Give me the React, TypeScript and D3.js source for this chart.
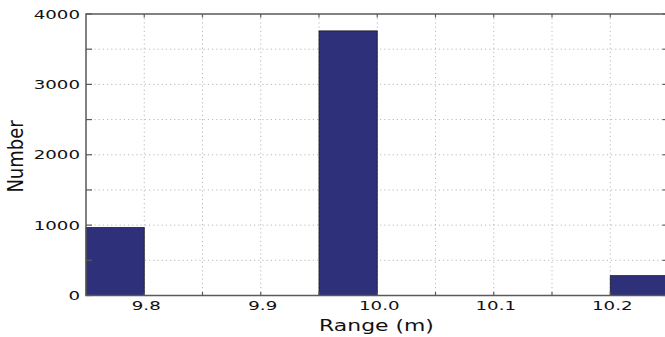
import React from "react";
import * as d3 from "d3";

const binLower = [9.75, 9.95, 10.2];
const counts = [965, 3760, 282];
const binWidth = 0.05;
const xDomain = [9.75, 10.25];
const yDomain = [0, 4000];
const xTickValues = [9.8, 9.9, 10.0, 10.1, 10.2];
const xTickLabels = ["9.8", "9.9", "10.0", "10.1", "10.2"];
const xGridValues = [9.8, 9.85, 9.9, 9.95, 10.0, 10.05, 10.1, 10.15, 10.2];
const yTickValues = [0, 1000, 2000, 3000, 4000];
const yGridValues = [500, 1000, 1500, 2000, 2500, 3000, 3500];
const xLabel = "Range (m)";
const yLabel = "Number";

export default function App() {
  const W = 665, H = 337;
  const left = 86, right = 668.5, top = 14, bottom = 295.5;
  const x = d3.scaleLinear().domain(xDomain).range([left, right]);
  const y = d3.scaleLinear().domain(yDomain).range([bottom, top]);
  const axisColor = "#5a5a5a";
  const gridColor = "#b8b8b8";
  const font = "'DejaVu Sans', sans-serif";
  const sx = 1.4;
  return (
    <svg width={W} height={H} style={{ position: "absolute", left: 0, top: 0, background: "#fff" }}>
      <rect x={0} y={0} width={W} height={H} fill="#fff" />
      {xGridValues.map((v, i) => (
        <line key={"xg" + i} x1={x(v)} x2={x(v)} y1={top} y2={bottom} stroke={gridColor} strokeWidth={1} strokeDasharray="1.2,3" />
      ))}
      {yGridValues.map((v, i) => (
        <line key={"yg" + i} x1={left} x2={right} y1={y(v)} y2={y(v)} stroke={gridColor} strokeWidth={1} strokeDasharray="1.2,3" />
      ))}
      {binLower.map((b, i) => (
        <rect key={"bar" + i} x={x(b)} y={y(counts[i])} width={x(b + binWidth) - x(b)} height={y(0) - y(counts[i])}
          fill="#2e3079" stroke="#1a1a2a" strokeWidth={0.8} />
      ))}
      {/* box */}
      <rect x={left} y={top} width={right - left} height={bottom - top} fill="none" stroke={axisColor} strokeWidth={1.5} />
      {/* y ticks */}
      {yGridValues.concat([0, 4000]).map((v, i) => (
        <g key={"yt" + i}>
          <line x1={left} x2={left + 6} y1={y(v)} y2={y(v)} stroke={axisColor} strokeWidth={1.2} />
          <line x1={right - 6} x2={right} y1={y(v)} y2={y(v)} stroke={axisColor} strokeWidth={1.2} />
        </g>
      ))}
      {/* x ticks */}
      {xGridValues.map((v, i) => (
        <g key={"xt" + i}>
          <line x1={x(v)} x2={x(v)} y1={bottom} y2={bottom - 3.5} stroke={axisColor} strokeWidth={1.2} />
          <line x1={x(v)} x2={x(v)} y1={top} y2={top + 3.5} stroke={axisColor} strokeWidth={1.2} />
        </g>
      ))}
      {yTickValues.map((v, i) => (
        <text key={"yl" + i} transform={`translate(80,${y(v)}) scale(${sx},1)`} dy="0.36em" textAnchor="end"
          fontFamily={font} fontSize={13} fill="#111">{String(v)}</text>
      ))}
      {xTickValues.map((v, i) => (
        <text key={"xl" + i} transform={`translate(${x(v) + 2},309.5) scale(${sx},1)`} textAnchor="middle"
          fontFamily={font} fontSize={13} fill="#111">{xTickLabels[i]}</text>
      ))}
      <text transform={`translate(376.5,331) scale(1.37,1)`} textAnchor="middle" fontFamily={font} fontSize={16} fill="#111">{xLabel}</text>
      <text transform={`translate(22.5,156.5) scale(1.15,1) rotate(-90)`} textAnchor="middle" fontFamily={font} fontSize={18} fill="#111">{yLabel}</text>
    </svg>
  );
}
